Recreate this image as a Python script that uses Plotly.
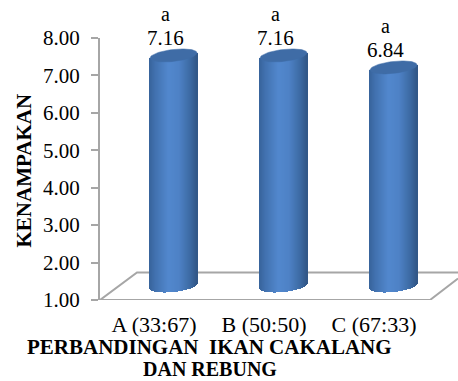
import numpy as np
import plotly.graph_objects as go

categories = ["A (33:67)", "B (50:50)", "C (67:33)"]
values = [7.16, 7.16, 6.84]
letters = ["a", "a", "a"]
y_ticks = [1, 2, 3, 4, 5, 6, 7, 8]

W, H = 458, 381
LEFT, TOP, BOTTOM = 100, 38, 81
PX_X = 110.0                      # pixels per category
PX_Y = (H - TOP - BOTTOM) / 7.0   # pixels per value unit
X_MIN = (LEFT - 173.5) / PX_X
X_MAX = (W - 173.5) / PX_X

# cylinder proportions, in pixels
HALF_W = 23.5
CAP_B = 6.0
CAP_TILT = 2.5
DEPTH = 14.0
STRIP = 1.0

SHADE_STOPS = [(-1.0, (56, 100, 156)), (-0.75, (66, 114, 176)), (-0.2, (82, 136, 206)),
               (0.25, (78, 130, 198)), (0.7, (62, 108, 166)), (1.0, (50, 88, 136))]


def shade(t):
    ts = [s[0] for s in SHADE_STOPS]
    rgb = [np.interp(t, ts, [s[1][i] for s in SHADE_STOPS]) for i in range(3)]
    return "rgb(%d,%d,%d)" % tuple(int(c) for c in rgb)


# Cylinder bodies: each is a fan of thin bars shaded across its width,
# trimmed by the lower edge of the elliptical base.
xs, tops, bases, colors = [], [], [], []
for i, v in enumerate(values):
    for px in np.arange(-HALF_W, HALF_W + 1e-6, STRIP):
        t = px / HALF_W
        edge = np.sqrt(max(0.0, 1 - t * t))
        base = 1 + (DEPTH + CAP_TILT * t - CAP_B * edge) / PX_Y
        top = v + (DEPTH + CAP_TILT * t) / PX_Y
        xs.append(i + px / PX_X)
        bases.append(base)
        tops.append(top - base)
        colors.append(shade(t))

fig = go.Figure()
fig.add_trace(go.Bar(x=xs, y=tops, base=bases, width=(STRIP + 0.4) / PX_X,
                     marker=dict(color=colors, line=dict(width=0)),
                     hoverinfo="skip", showlegend=False))

# Elliptical caps on top of each cylinder
theta = np.linspace(0, 2 * np.pi, 80)
for i, v in enumerate(values):
    cx = i + HALF_W * np.cos(theta) / PX_X
    cy = v + (DEPTH + CAP_TILT * np.cos(theta) + CAP_B * np.sin(theta)) / PX_Y
    fig.add_trace(go.Scatter(x=cx, y=cy, mode="lines", fill="toself",
                             fillcolor="#3f6ca6", line=dict(color="#3f6ca6", width=0.5),
                             hoverinfo="skip", showlegend=False))

# Value and significance labels above each cylinder
annotations = []
serif = "Liberation Serif"
for i, v in enumerate(values):
    annotations.append(dict(x=i - 8 / PX_X, y=v, text=f"{v:.2f}", showarrow=False, yshift=31,
                            font=dict(family=serif, size=21, color="black")))
    annotations.append(dict(x=i - 8 / PX_X, y=v, text=letters[i], showarrow=False, yshift=55,
                            font=dict(family=serif, size=20, color="black")))


def paper_x(px):
    return (px - LEFT) / (W - LEFT)


def paper_y(px):
    return (H - BOTTOM - px) / (H - TOP - BOTTOM)


title_font = dict(family=serif, size=21, color="black")
annotations.append(dict(xref="paper", yref="paper", xanchor="center", yanchor="middle",
                        x=paper_x(23), y=paper_y(170.5), text="<b>KENAMPAKAN</b>",
                        textangle=-90, showarrow=False, font=title_font))
annotations.append(dict(xref="paper", yref="paper", xanchor="center", yanchor="middle",
                        x=paper_x(209.5), y=paper_y(347), text="<b>PERBANDINGAN  IKAN CAKALANG</b>",
                        showarrow=False, borderpad=0, font=title_font))
annotations.append(dict(xref="paper", yref="paper", xanchor="center", yanchor="bottom",
                        x=paper_x(209.5), y=paper_y(381), text="<b>DAN REBUNG</b>",
                        showarrow=False, borderpad=0,
                        font=dict(family=serif, size=20, color="black")))

# Chart floor drawn as a parallelogram behind the cylinders
floor_color = "#a6a6a6"
x0 = X_MIN
x1 = (430 - 173.5) / PX_X
dx = 37 / PX_X
back = 1 + 27.5 / PX_Y
right_y = 1 + 21.5 / PX_Y
shapes = [
    dict(type="path", xref="x", yref="y", layer="below",
         path=f"M {x1+28/PX_X} {right_y} L {x1} 1 L {x0} 1 L {x0+dx} {back} L {X_MAX} {back}",
         line=dict(color=floor_color, width=2), fillcolor="rgba(0,0,0,0)"),
]

fig.update_layout(
    width=W, height=H, margin=dict(l=LEFT, r=0, t=TOP, b=BOTTOM, pad=0),
    paper_bgcolor="white", plot_bgcolor="white", barmode="overlay", bargap=0,
    showlegend=False, annotations=annotations, shapes=shapes,
    xaxis=dict(range=[X_MIN, X_MAX], tickmode="array",
               tickvals=[i - 19.5 / PX_X for i in range(len(categories))],
               ticktext=categories, ticks="", showline=False, showgrid=False, zeroline=False,
               ticklabelstandoff=9,
               tickfont=dict(family=serif, size=22, color="black")),
    yaxis=dict(range=[1, 8], tickmode="array", tickvals=y_ticks,
               ticktext=[f"{t:.2f}" for t in y_ticks], ticks="outside", ticklen=7, tickwidth=2,
               tickcolor=floor_color, showline=True, linecolor=floor_color, linewidth=2,
               showgrid=False, zeroline=False, ticklabelstandoff=7,
               tickfont=dict(family=serif, size=21, color="black")),
)

fig.write_html("out.html", config=dict(displayModeBar=False))
